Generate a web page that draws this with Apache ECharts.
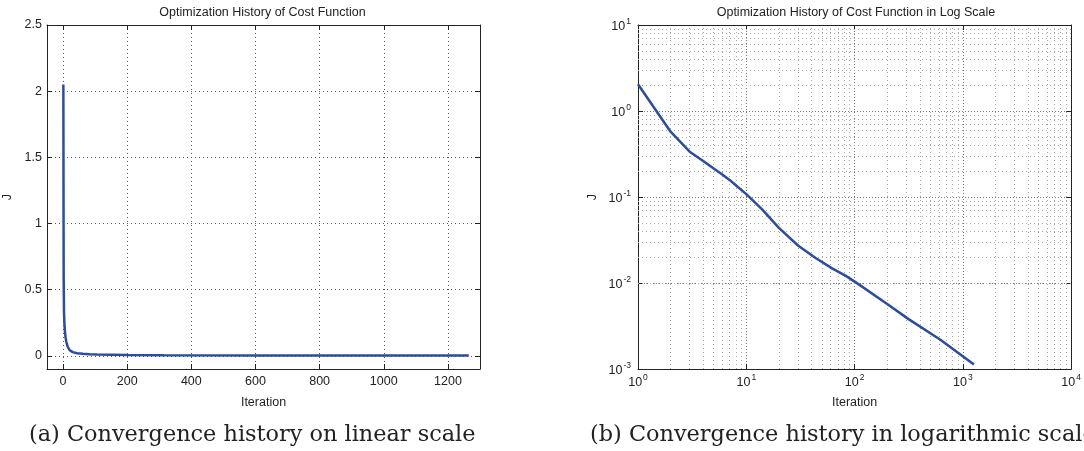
<!DOCTYPE html>
<html><head><meta charset="utf-8">
<script src="https://cdn.jsdelivr.net/npm/echarts@6/dist/echarts.min.js"></script>
<style>html,body{margin:0;padding:0;background:#fff}#c{width:1084px;height:451px}</style>
</head><body><div id="c"></div>
<script>
// ---- data ----
const iterations = [1, 2, 3, 4, 5, 6, 7, 8, 10, 14, 20, 30, 44, 62, 83, 106, 200, 315, 615, 1265];
const costJ = [2.05, 0.575, 0.336, 0.262, 0.214, 0.183, 0.158, 0.137, 0.108, 0.0719, 0.0438, 0.0273, 0.0194, 0.0148, 0.0121, 0.0099, 0.0057, 0.0038, 0.0022, 0.00113];
const linXTicks = [0, 200, 400, 600, 800, 1000, 1200];
const linYTicks = [0, 0.5, 1, 1.5, 2, 2.5];
const logXDecades = [1, 10, 100, 1000];
const logYDecades = [0.001, 0.01, 0.1, 1];
const minorMultipliers = [2, 3, 4, 5, 6, 7, 8, 9];
const titles = ['Optimization History of Cost Function', 'Optimization History of Cost Function in Log Scale'];
const captions = ['(a) Convergence history on linear scale', '(b) Convergence history in logarithmic scale'];
const xName = 'Iteration';
const yName = 'J';

const pairs = iterations.map((it, i) => [it, costJ[i]]);
const minorX = [];
logXDecades.forEach(d => minorMultipliers.forEach(m => minorX.push(+(d * m).toPrecision(6))));
const minorY = [];
logYDecades.forEach(d => minorMultipliers.forEach(m => minorY.push(+(d * m).toPrecision(6))));

const FONT = 'Liberation Sans, Arial, Helvetica, sans-serif';
const TXT = '#222';
const FS = 12.5;
const axisLineStyle = { color: '#222', width: 1 };
const gridDots = { type: [1, 3], color: '#555', width: 1 };
const logMajorDots = { type: [1, 2], color: '#777', width: 1 };
const logMinorDots = { type: [1, 3], color: '#a8a8a8', width: 1 };

function logLabel(v) {
  const e = Math.round(Math.log10(v));
  return '{b|10}{s|' + e + '}';
}
const logRich = {
  b: { fontSize: FS, fontFamily: FONT, color: TXT, lineHeight: 16, verticalAlign: 'bottom' },
  s: { fontSize: 8.5, fontFamily: FONT, color: TXT, lineHeight: 16, verticalAlign: 'top', padding: [0, 0, 0, 1] }
};

const G0 = { left: 45, top: 25, width: 435, height: 344 };
const G1 = { left: 638, top: 25, width: 436, height: 344 };

const option = {
  animation: false,
  backgroundColor: '#fff',
  grid: [
    Object.assign({ containLabel: false }, G0),
    Object.assign({ containLabel: false }, G1)
  ],
  xAxis: [
    { // 0 linear bottom
      type: 'value', gridIndex: 0, position: 'bottom', min: -50, max: 1300,
      axisLine: { show: true, onZero: false, lineStyle: axisLineStyle },
      axisTick: { show: true, inside: true, length: 5, customValues: linXTicks, lineStyle: axisLineStyle },
      axisLabel: { customValues: linXTicks, formatter: v => String(v), fontSize: FS, fontFamily: FONT, color: TXT, margin: 6 },
      splitLine: { show: true, lineStyle: gridDots },
      name: xName, nameLocation: 'middle', nameGap: 27,
      nameTextStyle: { fontSize: FS, fontFamily: FONT, color: TXT }
    },
    { // 1 log bottom
      type: 'log', logBase: 10, gridIndex: 1, position: 'bottom', min: 1, max: 10000,
      axisLine: { show: true, onZero: false, lineStyle: axisLineStyle },
      axisTick: { show: true, inside: true, length: 5, lineStyle: axisLineStyle },
      axisLabel: { formatter: logLabel, rich: logRich, margin: 4 },
      splitLine: { show: true, lineStyle: logMajorDots },
      name: xName, nameLocation: 'middle', nameGap: 27,
      nameTextStyle: { fontSize: FS, fontFamily: FONT, color: TXT }
    },
    { // 2 linear top mirror
      type: 'value', gridIndex: 0, position: 'top', min: -50, max: 1300,
      axisLine: { show: true, onZero: false, lineStyle: axisLineStyle },
      axisTick: { show: true, inside: true, length: 5, customValues: linXTicks, lineStyle: axisLineStyle },
      axisLabel: { show: false }, splitLine: { show: false }
    },
    { // 3 log top mirror
      type: 'log', logBase: 10, gridIndex: 1, position: 'top', min: 1, max: 10000,
      axisLine: { show: true, onZero: false, lineStyle: axisLineStyle },
      axisTick: { show: true, inside: true, length: 5, lineStyle: axisLineStyle },
      axisLabel: { show: false }, splitLine: { show: false }
    }
  ],
  yAxis: [
    { // 0 linear left
      type: 'value', gridIndex: 0, position: 'left', min: -0.1, max: 2.5,
      axisLine: { show: true, onZero: false, lineStyle: axisLineStyle },
      axisTick: { show: true, inside: true, length: 5, customValues: linYTicks, lineStyle: axisLineStyle },
      axisLabel: { customValues: linYTicks, formatter: v => String(v), fontSize: FS, fontFamily: FONT, color: TXT, margin: 5 },
      splitLine: { show: true, lineStyle: gridDots },
      name: yName, nameLocation: 'middle', nameGap: 33,
      nameTextStyle: { fontSize: FS, fontFamily: FONT, color: TXT }
    },
    { // 1 log left
      type: 'log', logBase: 10, gridIndex: 1, position: 'left', min: 0.001, max: 10,
      axisLine: { show: true, onZero: false, lineStyle: axisLineStyle },
      axisTick: { show: true, inside: true, length: 5, lineStyle: axisLineStyle },
      axisLabel: { formatter: logLabel, rich: logRich, margin: 7 },
      splitLine: { show: true, lineStyle: logMajorDots },
      name: yName, nameLocation: 'middle', nameGap: 39,
      nameTextStyle: { fontSize: FS, fontFamily: FONT, color: TXT }
    },
    { // 2 linear right mirror
      type: 'value', gridIndex: 0, position: 'right', min: -0.1, max: 2.5,
      axisLine: { show: true, onZero: false, lineStyle: axisLineStyle },
      axisTick: { show: true, inside: true, length: 5, customValues: linYTicks, lineStyle: axisLineStyle },
      axisLabel: { show: false }, splitLine: { show: false }
    },
    { // 3 log right mirror
      type: 'log', logBase: 10, gridIndex: 1, position: 'right', min: 0.001, max: 10,
      axisLine: { show: true, onZero: false, lineStyle: axisLineStyle },
      axisTick: { show: true, inside: true, length: 5, lineStyle: axisLineStyle },
      axisLabel: { show: false }, splitLine: { show: false }
    }
  ],
  series: [
    { // minor log grid
      type: 'line', xAxisIndex: 1, yAxisIndex: 1, data: pairs, showSymbol: false,
      lineStyle: { opacity: 0 }, silent: true, z: 1,
      markLine: {
        silent: true, symbol: ['none', 'none'], label: { show: false }, animation: false,
        lineStyle: logMinorDots,
        emphasis: { disabled: true },
        data: minorX.map(v => ({ xAxis: v })).concat(minorY.map(v => ({ yAxis: v })))
      }
    },
    {
      type: 'line', xAxisIndex: 0, yAxisIndex: 0, data: pairs, showSymbol: false, smooth: false,
      lineStyle: { color: '#2b4ca6', width: 2.5 }, itemStyle: { color: '#2b4ca6' }, z: 5
    },
    {
      type: 'line', xAxisIndex: 1, yAxisIndex: 1, data: pairs, showSymbol: false, smooth: false,
      lineStyle: { color: '#2b4ca6', width: 2.5 }, itemStyle: { color: '#2b4ca6' }, z: 5
    }
  ],
  graphic: [
    { type: 'text', x: G0.left + G0.width / 2, y: 13, style: { text: titles[0], textAlign: 'center', textVerticalAlign: 'middle', font: FS + 'px ' + FONT, fill: TXT } },
    { type: 'text', x: G1.left + G1.width / 2, y: 13, style: { text: titles[1], textAlign: 'center', textVerticalAlign: 'middle', font: FS + 'px ' + FONT, fill: TXT } },
    { type: 'text', x: 29, y: 435, style: { text: captions[0], textAlign: 'left', textVerticalAlign: 'middle', font: '22.4px DejaVu Serif', fill: '#222' } },
    { type: 'text', x: 590, y: 435, style: { text: captions[1], textAlign: 'left', textVerticalAlign: 'middle', font: '22.4px DejaVu Serif', fill: '#222' } }
  ]
};
const chart = echarts.init(document.getElementById('c'), null, { renderer: 'canvas' });
chart.setOption(option);
</script>
</body></html>
